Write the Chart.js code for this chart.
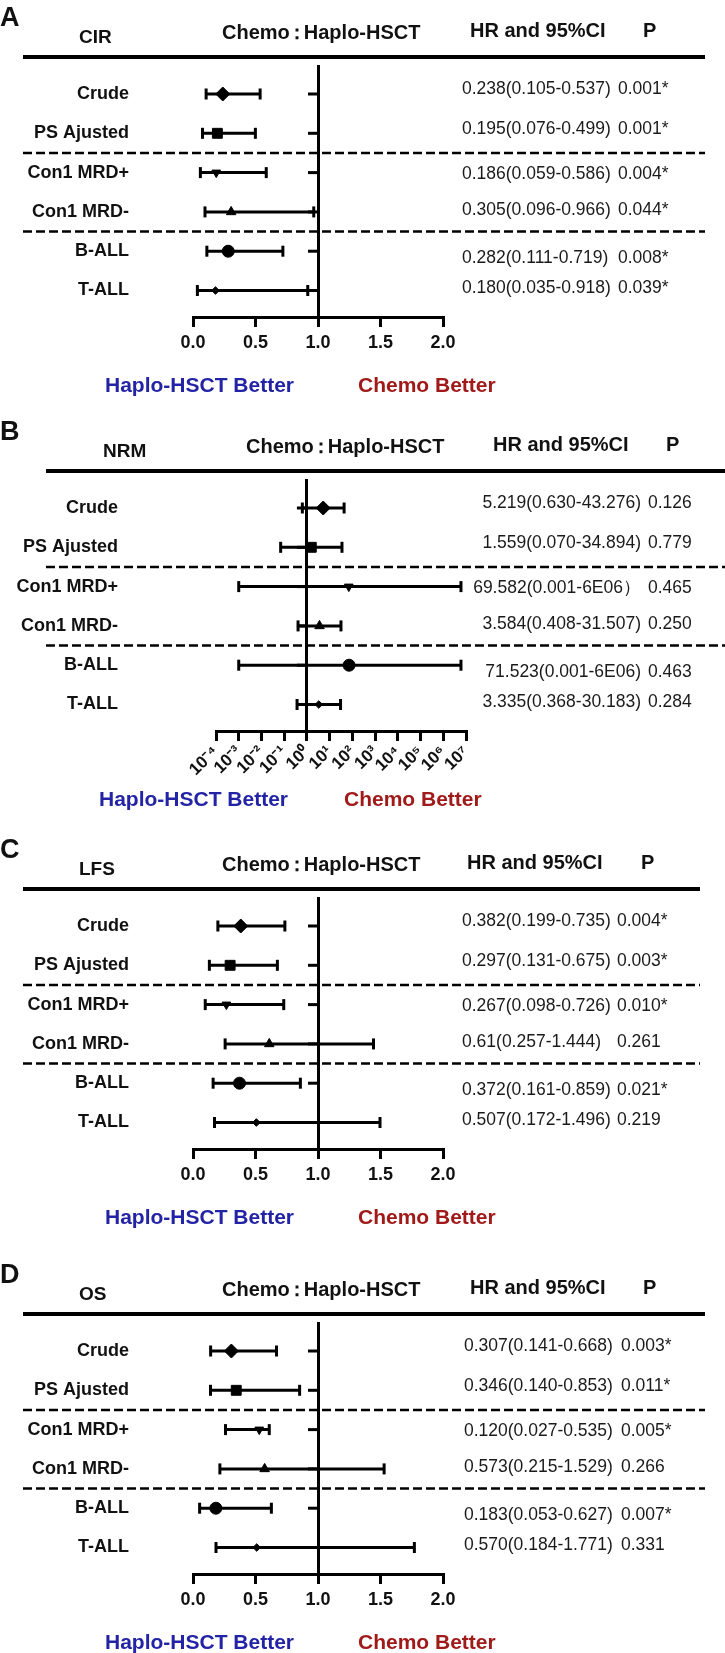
<!DOCTYPE html>
<html>
<head>
<meta charset="utf-8">
<script src="https://cdn.jsdelivr.net/npm/chart.js@4.4.1/dist/chart.umd.min.js"></script>
<style>
body { margin: 0; background: #fff; width: 725px; height: 1653px; overflow: hidden; position: relative;
  font-family: "Liberation Sans", Arial, sans-serif; }
.panel { position: absolute; left: 0; width: 725px; height: 397px; }
.panel canvas { position: absolute; left: 0; top: 0; }
.t { position: absolute; white-space: nowrap; line-height: 1; font-weight: bold; color: #111; transform: translateY(-50%); }
.letter { font-size: 27px; }
.head { font-size: 20px; }
.head .colon { margin: 0 -3px; }
.name { font-size: 19px; }
.blue { font-size: 21px; color: #2323a6; }
.red { font-size: 21px; color: #a11a1a; }
.rule { position: absolute; height: 4px; background: #000; }
</style>
</head>
<body>
<script>
// rows shared by all four panels
var rowLabels = ["Crude", "PS Ajusted", "Con1 MRD+", "Con1 MRD-", "B-ALL", "T-ALL"];

// A - CIR
var cirHR = [0.238, 0.195, 0.186, 0.305, 0.282, 0.180];
var cirLow = [0.105, 0.076, 0.059, 0.096, 0.111, 0.035];
var cirHigh = [0.537, 0.499, 0.586, 0.966, 0.719, 0.918];
var cirText = ["0.238(0.105-0.537)", "0.195(0.076-0.499)", "0.186(0.059-0.586)", "0.305(0.096-0.966)", "0.282(0.111-0.719)", "0.180(0.035-0.918)"];
var cirP = ["0.001*", "0.001*", "0.004*", "0.044*", "0.008*", "0.039*"];

// B - NRM (log axis)
var nrmHR = [5.219, 1.559, 69.582, 3.584, 71.523, 3.335];
var nrmLow = [0.630, 0.070, 0.001, 0.408, 0.001, 0.368];
var nrmHigh = [43.276, 34.894, 6e6, 31.507, 6e6, 30.183];
var nrmText = ["5.219(0.630-43.276)", "1.559(0.070-34.894)", "69.582(0.001-6E06）", "3.584(0.408-31.507)", "71.523(0.001-6E06)", "3.335(0.368-30.183)"];
var nrmP = ["0.126", "0.779", "0.465", "0.250", "0.463", "0.284"];

// C - LFS
var lfsHR = [0.382, 0.297, 0.267, 0.61, 0.372, 0.507];
var lfsLow = [0.199, 0.131, 0.098, 0.257, 0.161, 0.172];
var lfsHigh = [0.735, 0.675, 0.726, 1.444, 0.859, 1.496];
var lfsText = ["0.382(0.199-0.735)", "0.297(0.131-0.675)", "0.267(0.098-0.726)", "0.61(0.257-1.444)", "0.372(0.161-0.859)", "0.507(0.172-1.496)"];
var lfsP = ["0.004*", "0.003*", "0.010*", "0.261", "0.021*", "0.219"];

// D - OS  (MRD+ and T-ALL marks, they don't match the printed text)
var osHR = [0.307, 0.346, 0.53, 0.573, 0.183, 0.51];
var osLow = [0.141, 0.140, 0.26, 0.215, 0.053, 0.184];
var osHigh = [0.668, 0.853, 0.61, 1.529, 0.627, 1.771];
var osText = ["0.307(0.141-0.668)", "0.346(0.140-0.853)", "0.120(0.027-0.535)", "0.573(0.215-1.529)", "0.183(0.053-0.627)", "0.570(0.184-1.771)"];
var osP = ["0.003*", "0.011*", "0.005*", "0.266", "0.007*", "0.331"];

// x axis ticks
var linTicks = [0, 0.5, 1, 1.5, 2];
var linTickLabels = ["0.0", "0.5", "1.0", "1.5", "2.0"];
var logTicks = [1e-4, 1e-3, 1e-2, 1e-1, 1e0, 1e1, 1e2, 1e3, 1e4, 1e5, 1e6, 1e7];
var logTickLabels = ["10⁻⁴", "10⁻³", "10⁻²", "10⁻¹", "10⁰", "10¹", "10²", "10³", "10⁴", "10⁵", "10⁶", "10⁷"];

// marker look per row
var markerStyle = ["rectRot", "rect", "triangle", "triangle", "circle", "rectRot"];
var markerRotation = [0, 0, 180, 0, 0, 0];
var markerRadius = [7, 7, 5, 5.5, 6, 3.8];
// small vertical offsets of the HR/P text against the row
var textNudge = [-5, -4, 1.5, -2, 6.5, -2];

var panels = [
  { letter: "A", top: 0, name: "CIR", log: false, hr: cirHR, low: cirLow, high: cirHigh, text: cirText, p: cirP,
    left: 193, right: 443, labelPad: 56, hrX: 462, hrAlign: "left", pX: 618, ruleL: 23, ruleR: 705,
    nameX: 79, chemoX: 222, hrHeadX: 470, pHeadX: 643, haploX: 105, chemoBX: 358 },
  { letter: "B", top: 414, name: "NRM", log: true, hr: nrmHR, low: nrmLow, high: nrmHigh, text: nrmText, p: nrmP,
    left: 216, right: 466, labelPad: 90, hrX: 641, hrAlign: "right", pX: 648, ruleL: 46, ruleR: 725,
    nameX: 103, chemoX: 246, hrHeadX: 493, pHeadX: 666, haploX: 99, chemoBX: 344 },
  { letter: "C", top: 832, name: "LFS", log: false, hr: lfsHR, low: lfsLow, high: lfsHigh, text: lfsText, p: lfsP,
    left: 193, right: 443, labelPad: 56, hrX: 462, hrAlign: "left", pX: 617, ruleL: 23, ruleR: 700,
    nameX: 79, chemoX: 222, hrHeadX: 467, pHeadX: 641, haploX: 105, chemoBX: 358 },
  { letter: "D", top: 1257, name: "OS", log: false, hr: osHR, low: osLow, high: osHigh, text: osText, p: osP,
    left: 193, right: 443, labelPad: 56, hrX: 464, hrAlign: "left", pX: 621, ruleL: 23, ruleR: 705,
    nameX: 79, chemoX: 222, hrHeadX: 470, pHeadX: 643, haploX: 105, chemoBX: 358 }
];

function addText(box, str, cls, x, y) {
  var d = document.createElement("div");
  d.className = "t " + cls;
  d.textContent = str;
  d.style.left = x + "px";
  d.style.top = y + "px";
  box.appendChild(d);
  return d;
}

// draws the stubs on the HR=1 line, the dashed group lines and the HR / P columns
function forestPlugin(p) {
  return {
    id: "forest" + p.letter,
    beforeDatasetsDraw: function (chart) {
      var ctx = chart.ctx, xs = chart.scales.x, ys = chart.scales.y;
      var x1 = xs.getPixelForValue(1);
      ctx.save();
      ctx.strokeStyle = "#000";
      ctx.lineWidth = 3;
      for (var i = 0; i < rowLabels.length; i++) {
        var py = ys.getPixelForValue(i);
        ctx.beginPath();
        ctx.moveTo(x1 - 10, py);
        ctx.lineTo(x1, py);
        ctx.stroke();
      }
      ctx.lineWidth = 2.5;
      ctx.setLineDash([9, 4]);
      [1.5, 3.5].forEach(function (v) {
        var py = ys.getPixelForValue(v);
        ctx.beginPath();
        ctx.moveTo(p.ruleL, py);
        ctx.lineTo(p.ruleR, py);
        ctx.stroke();
      });
      ctx.restore();
    },
    afterDraw: function (chart) {
      var ctx = chart.ctx, ys = chart.scales.y;
      ctx.save();
      ctx.font = '17.5px "Liberation Sans", Arial, sans-serif';
      ctx.fillStyle = "#1a1a1a";
      ctx.textBaseline = "middle";
      for (var i = 0; i < rowLabels.length; i++) {
        var py = ys.getPixelForValue(i) + textNudge[i];
        ctx.textAlign = p.hrAlign;
        ctx.fillText(p.text[i], p.hrX, py);
        ctx.textAlign = "left";
        ctx.fillText(p.p[i], p.pX, py);
      }
      ctx.restore();
    }
  };
}

panels.forEach(function (p) {
  var box = document.createElement("div");
  box.className = "panel";
  box.style.top = p.top + "px";
  document.body.appendChild(box);
  var cv = document.createElement("canvas");
  cv.width = 725;
  cv.height = 397;
  box.appendChild(cv);

  // header and footer texts
  addText(box, p.letter, "letter", 0, 17);
  addText(box, p.name, "name", p.nameX, 36);
  var chemo = addText(box, "", "head", p.chemoX, 32);
  chemo.innerHTML = 'Chemo<span class="colon">：</span>Haplo-HSCT';
  addText(box, "HR and 95%CI", "head", p.hrHeadX, 30);
  addText(box, "P", "head", p.pHeadX, 30);
  addText(box, "Haplo-HSCT Better", "blue", p.haploX, 384);
  addText(box, "Chemo Better", "red", p.chemoBX, 384);
  var rule = document.createElement("div");
  rule.className = "rule";
  rule.style.left = p.ruleL + "px";
  rule.style.width = (p.ruleR - p.ruleL) + "px";
  rule.style.top = "55px";
  box.appendChild(rule);

  var datasets = [];
  // one error bar per row, caps drawn as rotated line points
  for (var i = 0; i < rowLabels.length; i++) {
    datasets.push({
      data: [{ x: p.low[i], y: i }, { x: p.high[i], y: i }],
      showLine: true,
      borderColor: "#000",
      borderWidth: 3,
      pointStyle: "line",
      pointRotation: 90,
      pointRadius: 5.5,
      pointBorderWidth: 3,
      pointBorderColor: "#000"
    });
  }
  datasets.push({
    data: p.hr.map(function (v, i) { return { x: v, y: i }; }),
    pointStyle: markerStyle,
    pointRotation: markerRotation,
    pointRadius: markerRadius,
    backgroundColor: "#000",
    borderColor: "#000",
    borderWidth: 1
  });

  var ticks = p.log ? logTicks : linTicks;
  var tickLabels = p.log ? logTickLabels : linTickLabels;

  new Chart(cv.getContext("2d"), {
    type: "scatter",
    data: { datasets: datasets },
    options: {
      responsive: false,
      animation: false,
      events: [],
      layout: { padding: { top: 65, left: 0, right: 725 - p.right, bottom: 20 } },
      plugins: { legend: { display: false }, tooltip: { enabled: false } },
      scales: {
        x: {
          type: p.log ? "logarithmic" : "linear",
          min: ticks[0],
          max: ticks[ticks.length - 1],
          afterBuildTicks: function (s) {
            s.ticks = ticks.map(function (v) { return { value: v }; });
          },
          afterFit: function (s) {
            s.height = 60;
            s.paddingLeft = 0;
            s.paddingRight = 0;
          },
          ticks: {
            autoSkip: false,
            maxRotation: p.log ? 45 : 0,
            minRotation: p.log ? 45 : 0,
            padding: p.log ? 1 : 5,
            color: "#111",
            font: { family: '"Liberation Sans", Arial, sans-serif', size: p.log ? 17 : 18, weight: "bold" },
            callback: function (v, idx) { return tickLabels[idx]; }
          },
          grid: {
            color: function (c) { return c.tick && c.tick.value === 1 ? "#000" : "rgba(0,0,0,0)"; },
            lineWidth: 3,
            tickColor: "#000",
            tickWidth: 3,
            tickLength: 10
          },
          border: { display: true, color: "#000", width: 3 }
        },
        y: {
          type: "linear",
          reverse: true,
          min: -0.738,
          max: 5.674,
          afterBuildTicks: function (s) {
            s.ticks = rowLabels.map(function (_, i) { return { value: i }; });
          },
          afterFit: function (s) {
            s.width = p.left;
            // the wide label gap must not eat into the plot height
            s.paddingTop = 0;
            s.paddingBottom = 0;
          },
          ticks: {
            autoSkip: false,
            padding: p.labelPad,
            color: "#111",
            font: { family: '"Liberation Sans", Arial, sans-serif', size: 18, weight: "bold" },
            callback: function (v) { return rowLabels[v]; }
          },
          grid: { display: false },
          border: { display: false }
        }
      }
    },
    plugins: [forestPlugin(p)]
  });
});
</script>
</body>
</html>
